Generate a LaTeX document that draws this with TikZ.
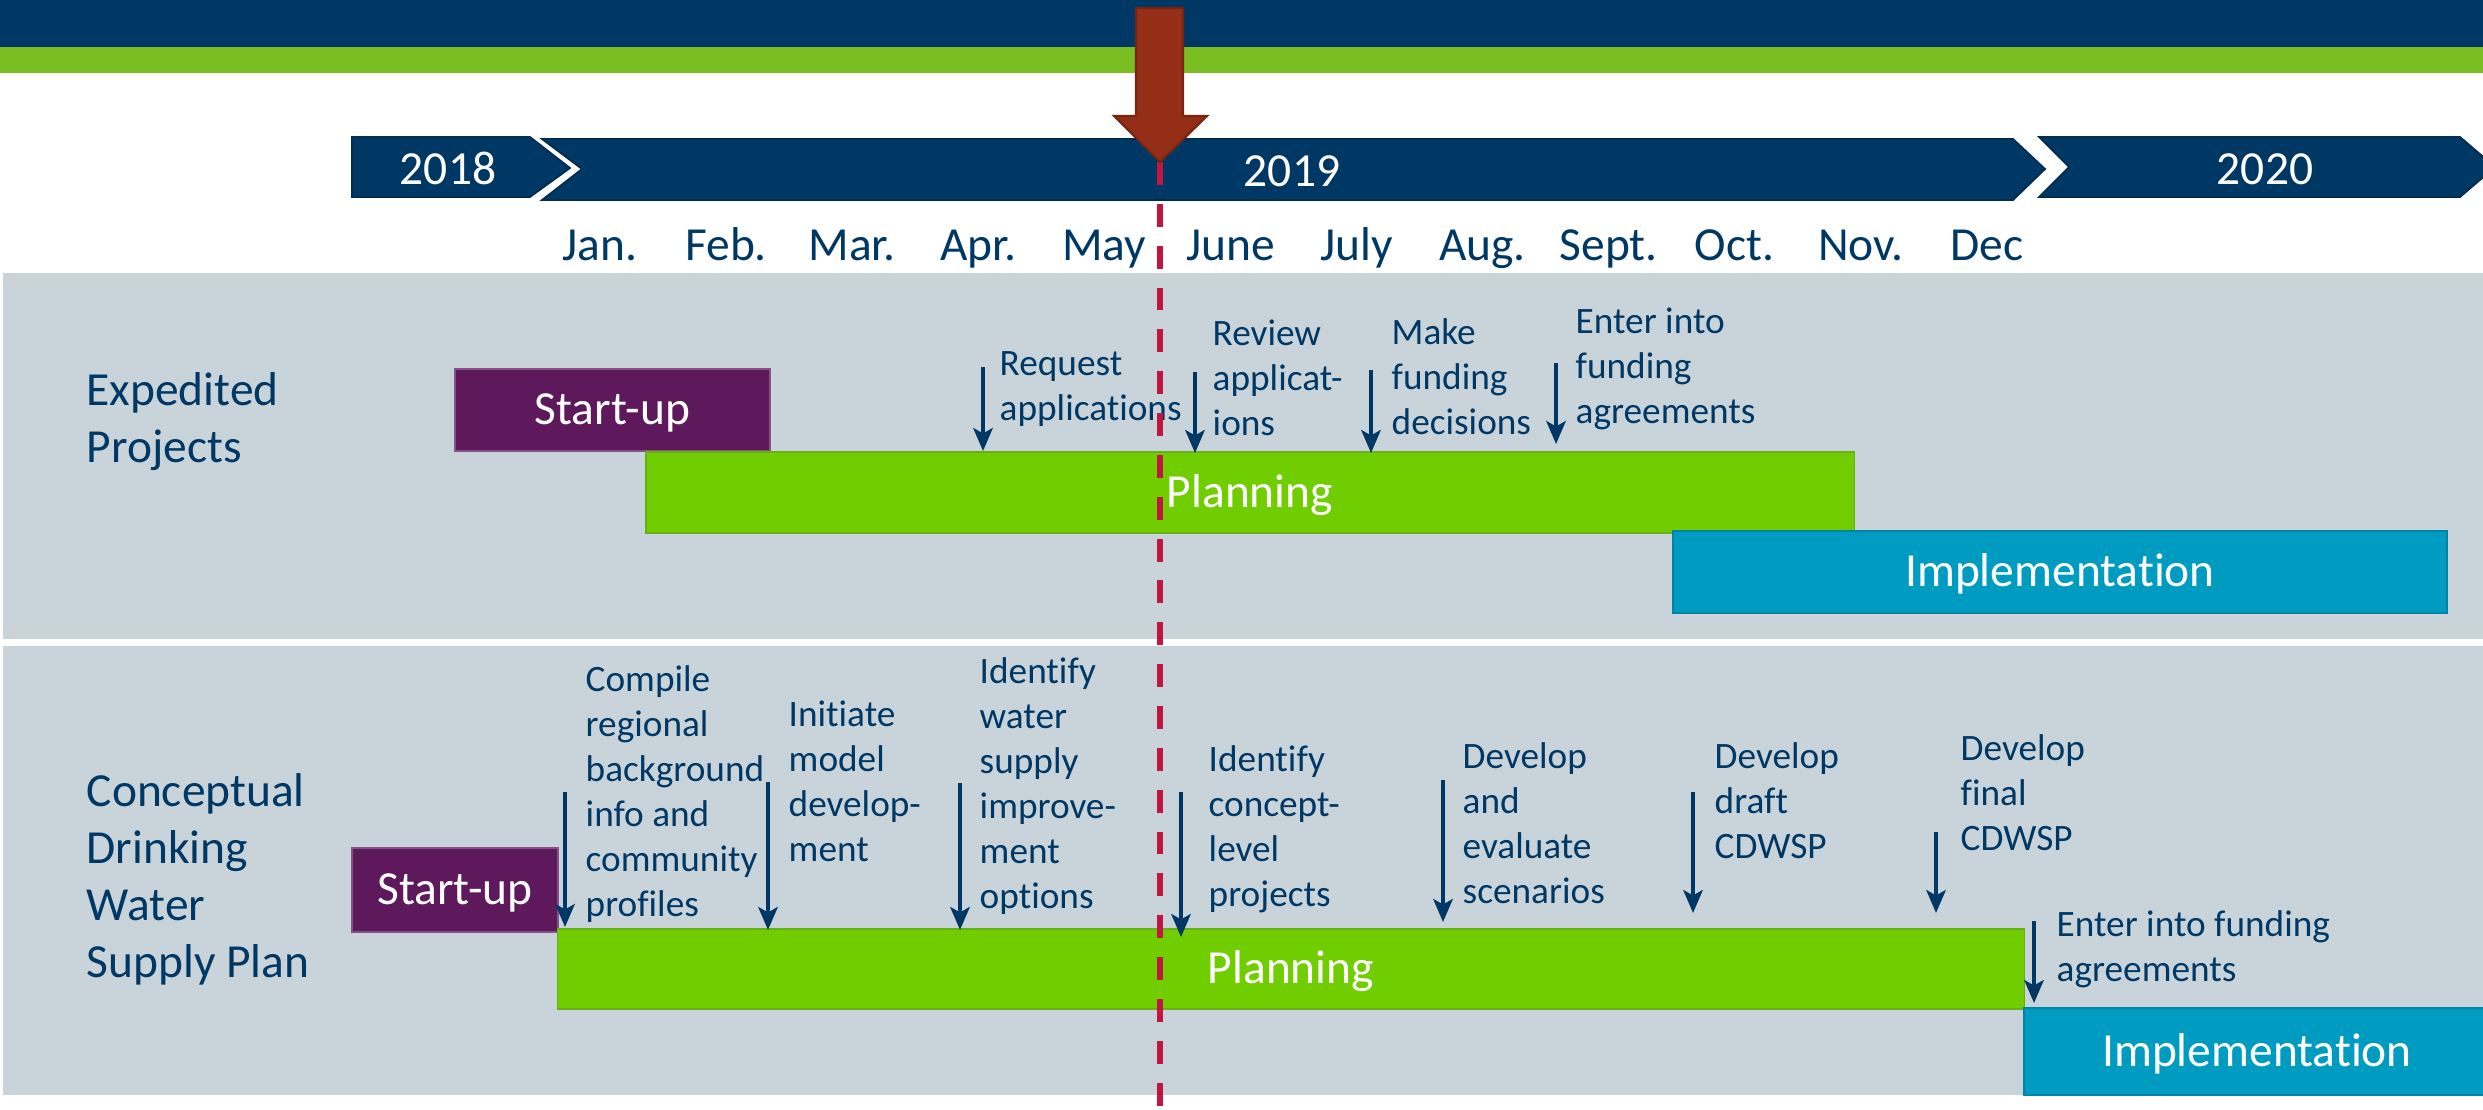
\documentclass[tikz,border=0pt]{standalone}
\usepackage{fontspec}
\setmainfont{Carlito}[Ligatures=CommonOff]
\usepackage{xcolor}
\usepackage{tikz}
\usetikzlibrary{arrows.meta, positioning}
\definecolor{navy}{RGB}{0,56,101}
\definecolor{topgreen}{RGB}{122,190,34}
\definecolor{panelgray}{RGB}{200,212,218}
\definecolor{startpurple}{RGB}{94,25,92}
\definecolor{plangreen}{RGB}{112,206,0}
\definecolor{implteal}{RGB}{0,155,192}
\definecolor{nowred}{RGB}{192,22,64}
\definecolor{markerbrown}{RGB}{148,46,22}
\tikzstyle{chevron} = [fill=navy, draw=navy!80!black, line width=0.5pt]
\tikzstyle{yearlbl} = [anchor=base, inner sep=0pt, text=white, font=\fontsize{13.5pt}{16pt}\selectfont]
\tikzstyle{monthlbl} = [inner sep=0pt, text height=9.5pt, text depth=3.4pt, text=navy, font=\fontsize{13.5pt}{16pt}\selectfont]
\tikzstyle{rowtitle} = [anchor=north west, inner sep=0pt, align=left, text=navy, font=\fontsize{13.5pt}{16.2pt}\selectfont, execute at begin node=\strut]
\tikzstyle{startup} = [rectangle, inner sep=0pt, text height=8.5pt, text depth=0pt, text centered, draw=startpurple!75!white, line width=0.5pt, fill=startpurple, text=white, font=\fontsize{13.5pt}{16pt}\selectfont]
\tikzstyle{planbar} = [rectangle, inner sep=0pt, text height=8.5pt, text depth=0pt, text centered, draw=plangreen!80!black!90!white, line width=0.5pt, fill=plangreen, text=white, font=\fontsize{13.5pt}{16pt}\selectfont]
\tikzstyle{implbar} = [rectangle, inner sep=0pt, text height=8.5pt, text depth=0pt, text centered, draw=implteal!85!black, line width=0.5pt, fill=implteal, text=white, font=\fontsize{13.5pt}{16pt}\selectfont]
\tikzstyle{mstext} = [anchor=north west, inner sep=0pt, align=left, text=navy, font=\fontsize{10.6pt}{12.8pt}\selectfont, execute at begin node=\strut]
\tikzstyle{milearrow} = [line width=1.15pt, draw=navy, -{Stealth[length=6.5pt,width=5.5pt,inset=1.5pt]}]
\tikzstyle{nowline} = [draw=nowred, line width=1.7pt, dash pattern=on 6.5pt off 5.4pt]
\tikzstyle{marker} = [fill=markerbrown, draw=markerbrown!80!black, line width=0.6pt]

\begin{document}
\begin{tikzpicture}[x=0.01cm, y=-0.01cm, node distance=1.26cm]
			
			\useasboundingbox (0,0) rectangle (2483,1109);
			
			\fill[navy] (0,0) rectangle (2483,47);
			\fill[topgreen] (0,47) rectangle (2483,73);
			
			\draw[chevron] (352,137) -- (530,137) -- (570,168) -- (530,197) -- (352,197) -- cycle;
			\draw[chevron] (542,139) -- (2013,139) -- (2045,169) -- (2013,200) -- (542,200) -- (582,169) -- cycle;
			\draw[chevron] (2039,137) -- (2460,137) -- (2495,167) -- (2460,197) -- (2039,197) -- (2069,167) -- cycle;
			
			\node (y2018) [yearlbl] at (448,184) {2018};
			\node (y2019) [yearlbl] at (1292,186) {2019};
			\node (y2020) [yearlbl] at (2265,184) {2020};
			
			\node (jan) [monthlbl] at (600,250) {Jan.};
			\node (feb) [monthlbl, right of=jan] {Feb.};
			\node (mar) [monthlbl, right of=feb] {Mar.};
			\node (apr) [monthlbl, right of=mar] {Apr.};
			\node (may) [monthlbl, right of=apr] {May};
			\node (jun) [monthlbl, right of=may] {June};
			\node (jul) [monthlbl, right of=jun] {July};
			\node (aug) [monthlbl, right of=jul] {Aug.};
			\node (sep) [monthlbl, right of=aug] {Sept.};
			\node (oct) [monthlbl, right of=sep] {Oct.};
			\node (nov) [monthlbl, right of=oct] {Nov.};
			\node (dec) [monthlbl, right of=nov] {Dec};
			
			\fill[panelgray] (3,273) rectangle (2483,639);
			\fill[panelgray] (3,646) rectangle (2483,1095);
			
			\node (exptitle) [rowtitle] at (86,372) {Expedited\\Projects};
			\node (cdwtitle) [rowtitle] at (86,773) {Conceptual\\Drinking\\Water\\Supply Plan};
			
			\node (startA) [startup, minimum width=3.15cm, minimum height=0.82cm] at (612.5,410) {Start-up};
			\node (planA) [planbar, minimum width=12.08cm, minimum height=0.81cm] at (1250,492.5) {Planning};
			\node (implA) [implbar, minimum width=7.74cm, minimum height=0.82cm] at (2060,572) {Implementation};
			
			\node (startB) [startup, minimum width=2.06cm, minimum height=0.84cm] at (455,890) {Start-up};
			\node (planB) [planbar, minimum width=14.66cm, minimum height=0.80cm] at (1291,969) {Planning};
			\node (implB) [implbar, minimum width=4.66cm, minimum height=0.87cm] at (2257,1051.5) {Implementation};
			
			\node (reqtxt) [mstext] at (999,350.5) {Request\\applications};
			\node (revtxt) [mstext] at (1212,319.5) {Review\\applicat-\\ions};
			\node (maketxt) [mstext] at (1391,317.5) {Make\\funding\\decisions};
			\node (entAtxt) [mstext] at (1575,307.5) {Enter into\\funding\\agreements};
			
			\node (comptxt) [mstext] at (585,664.5) {Compile\\regional\\background\\info and\\community\\profiles};
			\node (inittxt) [mstext] at (788,700.5) {Initiate\\model\\develop-\\ment};
			\node (optstxt) [mstext] at (979,656.5) {Identify\\water\\supply\\improve-\\ment\\options};
			\node (projtxt) [mstext] at (1208,744.5) {Identify\\concept-\\level\\projects};
			\node (scentxt) [mstext] at (1462,741.5) {Develop\\and\\evaluate\\scenarios};
			\node (drafttxt) [mstext] at (1714,741.5) {Develop\\draft\\CDWSP};
			\node (finaltxt) [mstext] at (1960,733.5) {Develop\\final\\CDWSP};
			\node (entBtxt) [mstext] at (2056,909.5) {Enter into funding\\agreements};
			
			\coordinate (reqtop) at (983,367); \coordinate (reqend) at (983,451);
			\coordinate (revtop) at (1195,372); \coordinate (revend) at (1195,453);
			\coordinate (maketop) at (1371,370); \coordinate (makeend) at (1371,453);
			\coordinate (entAtop) at (1556,363); \coordinate (entAend) at (1556,444);
			\coordinate (comptop) at (565,792); \coordinate (compend) at (565,927);
			\coordinate (inittop) at (768,782); \coordinate (initend) at (768,930);
			\coordinate (optstop) at (960,783); \coordinate (optsend) at (960,930);
			\coordinate (projtop) at (1181,792); \coordinate (projend) at (1181,937);
			\coordinate (scentop) at (1443,780); \coordinate (scenend) at (1443,922);
			\coordinate (drafttop) at (1693,792); \coordinate (draftend) at (1693,913);
			\coordinate (finaltop) at (1936,832); \coordinate (finalend) at (1936,913);
			\coordinate (entBtop) at (2034,921); \coordinate (entBend) at (2034,1003);
			
			\draw [milearrow] (reqtop) -- (reqend);
			\draw [milearrow] (revtop) -- (revend);
			\draw [milearrow] (maketop) -- (makeend);
			\draw [milearrow] (entAtop) -- (entAend);
			\draw [milearrow] (comptop) -- (compend);
			\draw [milearrow] (inittop) -- (initend);
			\draw [milearrow] (optstop) -- (optsend);
			\draw [milearrow] (projtop) -- (projend);
			\draw [milearrow] (scentop) -- (scenend);
			\draw [milearrow] (drafttop) -- (draftend);
			\draw [milearrow] (finaltop) -- (finalend);
			\draw [milearrow] (entBtop) -- (entBend);
			
			\coordinate (nowtop) at (1160,162);
			\coordinate (nowbot) at (1160,1109);
			\draw [nowline] (nowtop) -- (nowbot);
			
			\draw [marker] (1136,8) -- (1183,8) -- (1183,116) -- (1207,116) -- (nowtop) -- (1114,116) -- (1136,116) -- cycle;
			
			
		\end{tikzpicture}
\end{document}
